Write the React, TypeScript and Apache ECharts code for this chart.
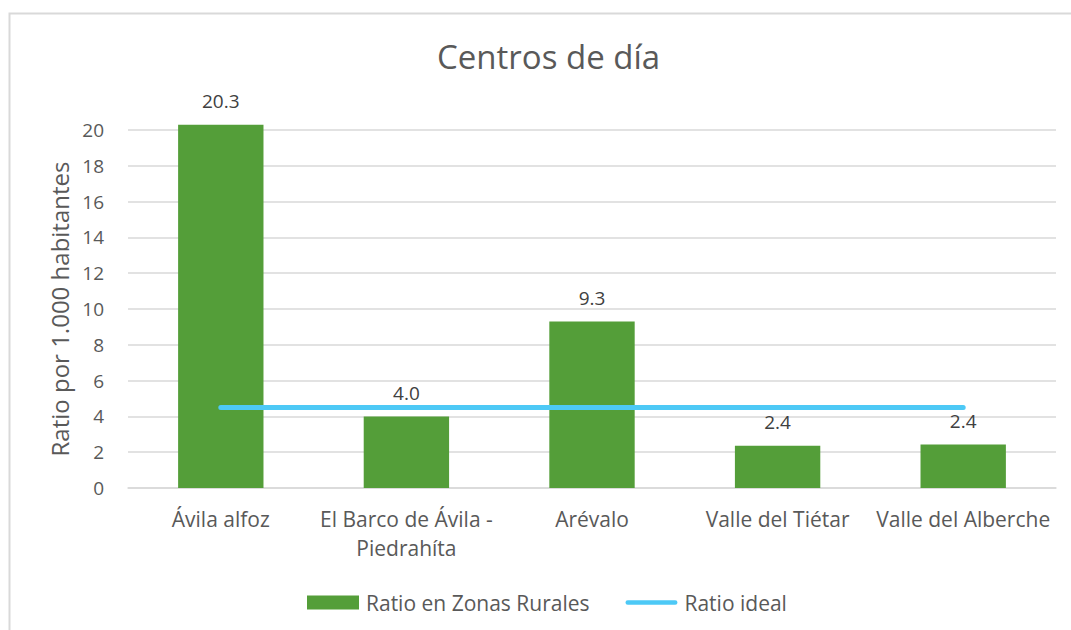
import React, { useEffect, useRef } from "react";
import * as echarts from "echarts";

const categories = ["Ávila alfoz", "El Barco de Ávila -\nPiedrahíta", "Arévalo", "Valle del Tiétar", "Valle del Alberche"];
const ruralRatio = [20.3, 4.0, 9.3, 2.36, 2.43];
const idealRatio = [4.5, 4.5, 4.5, 4.5, 4.5];
const yTicks = { min: 0, max: 20, interval: 2 };

const FONT = "'Open Sans', 'Noto Sans', sans-serif";
const LINE_ICON = "path://M2.5,0H54.5A2.5,2.5,0,0,1,54.5,5H2.5A2.5,2.5,0,0,1,2.5,0Z";

export default function App() {
  const ref = useRef<HTMLDivElement>(null);
  useEffect(() => {
    if (!ref.current) return;
    const chart = echarts.init(ref.current, null, { renderer: "svg" });
    chart.setOption({
      animation: false,
      backgroundColor: "#ffffff",
      textStyle: { fontFamily: FONT },
      title: {
        text: "Centros de día",
        left: 432,
        top: 35,
        textStyle: { fontFamily: FONT, fontSize: 33, fontWeight: "normal", color: "#595959" },
      },
      graphic: [
        {
          type: "rect",
          shape: { x: 9.5, y: 13.5, width: 1200, height: 800 },
          style: { fill: "none", stroke: "#d9d9d9", lineWidth: 2 },
          silent: true,
          z: -10,
        },
      ],
      legend: {
        top: 587,
        left: 302,
        itemGap: 36,
        itemWidth: 52,
        itemHeight: 14,
        symbolKeepAspect: true,
        textStyle: { fontFamily: FONT, fontSize: 21, color: "#595959", padding: [0, 0, 0, 2] },
        data: [
          { name: "Ratio en Zonas Rurales", icon: "rect" },
          { name: "Ratio ideal", icon: LINE_ICON },
        ],
      },
      grid: { left: 128, right: 15, top: 130, bottom: 142, containLabel: false },
      xAxis: {
        type: "category",
        data: categories,
        axisLine: { show: true, lineStyle: { color: "#d9d9d9", width: 1.5 } },
        axisTick: { show: false },
        axisLabel: {
          interval: 0,
          margin: 16,
          fontFamily: FONT,
          fontSize: 21,
          lineHeight: 29,
          color: "#595959",
        },
      },
      yAxis: {
        type: "value",
        min: yTicks.min,
        max: yTicks.max,
        interval: yTicks.interval,
        name: "Ratio por 1.000 habitantes",
        nameLocation: "middle",
        nameGap: 52,
        nameTextStyle: { fontFamily: FONT, fontSize: 24, color: "#595959" },
        axisLine: { show: false },
        axisTick: { show: false },
        axisLabel: { margin: 24, fontFamily: FONT, fontSize: 19, color: "#595959" },
        splitLine: { lineStyle: { color: "#d9d9d9", width: 1.5 } },
      },
      series: [
        {
          name: "Ratio en Zonas Rurales",
          type: "bar",
          data: ruralRatio,
          barCategoryGap: "54%",
          clip: false,
          itemStyle: { color: "#549e39" },
          label: {
            show: true,
            position: "top",
            distance: 14,
            fontFamily: FONT,
            fontSize: 19,
            color: "#404040",
            formatter: (p: any) => Number(p.value).toFixed(1),
          },
          z: 2,
        },
        {
          name: "Ratio ideal",
          type: "line",
          data: idealRatio,
          symbol: "none",
          showSymbol: false,
          lineStyle: { color: "#4dc9f6", width: 5, cap: "round" },
          itemStyle: { color: "#4dc9f6" },
          z: 3,
        },
      ],
    });
    return () => chart.dispose();
  }, []);
  return (
    <div
      ref={ref}
      style={{ position: "fixed", left: 0, top: 0, width: 1071, height: 630, background: "#fff" }}
    />
  );
}
